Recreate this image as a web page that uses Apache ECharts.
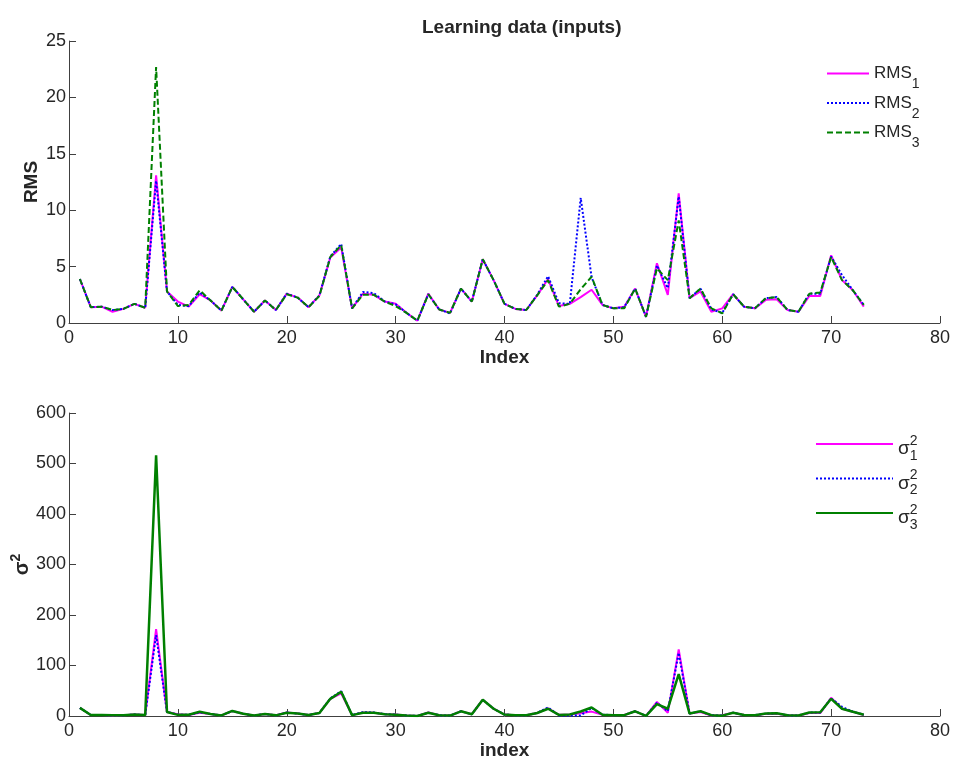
<!DOCTYPE html>
<html>
<head>
<meta charset="utf-8">
<script src="https://cdn.jsdelivr.net/npm/echarts@6/dist/echarts.min.js"></script>
<style>
  html, body {margin: 0; padding: 0; background: #fff;}
  #chart {width: 957px; height: 760px;}
</style>
</head>
<body>
<div id="chart"></div>
<script>
// RMS of the three inputs, sample 1..73
const rms1 = [3.9, 1.4, 1.45, 1.0, 1.25, 1.7, 1.35, 13.1, 2.8, 1.9,
  1.45, 2.55, 2.0, 1.1, 3.2, 2.1, 1.0, 2.0, 1.15, 2.6,
  2.25, 1.4, 2.45, 5.8, 6.7, 1.3, 2.6, 2.5, 1.9, 1.7,
  0.9, 0.2, 2.6, 1.2, 0.9, 3.05, 1.9, 5.65, 3.8, 1.7,
  1.25, 1.15, 2.45, 3.9, 1.5, 1.7, 2.3, 2.95, 1.6, 1.3,
  1.45, 3.05, 0.55, 5.3, 2.5, 11.5, 2.2, 2.8, 1.0, 1.3,
  2.55, 1.45, 1.3, 2.05, 2.1, 1.15, 1.0, 2.4, 2.4, 6.0,
  3.8, 2.9, 1.45]
const rms2 = [3.9, 1.4, 1.45, 1.15, 1.25, 1.7, 1.35, 12.6, 2.8, 1.6,
  1.5, 2.7, 2.0, 1.1, 3.2, 2.1, 1.0, 2.0, 1.15, 2.6,
  2.25, 1.4, 2.45, 5.9, 7.0, 1.3, 2.75, 2.65, 1.9, 1.65,
  0.9, 0.2, 2.55, 1.2, 0.85, 3.05, 1.9, 5.65, 3.8, 1.7,
  1.25, 1.15, 2.5, 4.15, 1.75, 1.7, 11.1, 4.05, 1.6, 1.3,
  1.4, 3.05, 0.55, 5.1, 3.1, 11.2, 2.2, 3.05, 1.2, 0.9,
  2.55, 1.45, 1.3, 2.2, 2.3, 1.15, 1.0, 2.6, 2.6, 5.9,
  4.25, 2.9, 1.6]
const rms3 = [3.9, 1.4, 1.45, 1.15, 1.25, 1.7, 1.35, 22.7, 2.8, 1.5,
  1.6, 2.9, 2.0, 1.1, 3.2, 2.1, 1.0, 2.0, 1.15, 2.55,
  2.25, 1.4, 2.4, 5.85, 6.9, 1.3, 2.5, 2.5, 1.9, 1.5,
  0.9, 0.2, 2.55, 1.2, 0.9, 3.05, 1.9, 5.65, 3.8, 1.7,
  1.25, 1.15, 2.45, 3.8, 1.45, 1.7, 3.0, 4.1, 1.6, 1.3,
  1.3, 3.05, 0.55, 4.85, 3.8, 9.1, 2.2, 3.05, 1.3, 0.85,
  2.55, 1.45, 1.3, 2.2, 2.3, 1.15, 1.0, 2.6, 2.7, 5.85,
  3.8, 2.9, 1.6]

// variances
const var1 = [16, 2, 2, 1, 1.6, 2.9, 1.8, 172, 7.8, 3.6,
  2.1, 6.5, 4, 1.2, 10, 4.4, 1, 4, 1.3, 6.8,
  5, 2, 6, 34, 45, 1.7, 6.8, 6.3, 3.6, 2.9,
  0.8, 0.1, 6.8, 1.4, 0.8, 9.3, 3.6, 32, 14.4, 2.9,
  1.6, 1.3, 6, 15, 2.3, 2.9, 5.3, 8.7, 2.6, 1.7,
  2.1, 9.3, 0.3, 28, 6.3, 132, 4.8, 7.8, 1, 1.7,
  6.5, 2.1, 1.7, 4.2, 4.4, 1.3, 1, 5.8, 5.8, 36,
  14.4, 8.4, 2.1]
const var2 = [16, 2, 2, 1.3, 1.6, 2.9, 1.8, 160, 7.8, 2.6,
  2.3, 7.3, 4, 1.2, 10, 4.4, 1, 4, 1.3, 6.8,
  5, 2, 6, 35, 49, 1.7, 7.6, 7, 3.6, 2.7,
  0.8, 0.1, 6.5, 1.4, 0.7, 9.3, 3.6, 32, 14.4, 2.9,
  1.6, 1.3, 6.3, 17, 1, 1, 1, 16, 2.6, 1.7,
  2, 9.3, 0.3, 26, 9.6, 125, 4.8, 9.3, 1.4, 0.8,
  6.5, 2.1, 1.7, 4.8, 5.3, 1.3, 1, 6.8, 6.8, 35,
  18, 8.4, 2.6]
const var3 = [16, 2, 2, 1.3, 1.6, 2.9, 1.8, 516, 7.8, 2.3,
  2.6, 8.4, 4, 1.2, 10, 4.4, 1, 4, 1.3, 6.5,
  5, 2, 5.8, 34, 48, 1.7, 6.3, 6.3, 3.6, 2.3,
  0.8, 0.1, 6.5, 1.4, 0.8, 9.3, 3.6, 32, 14.4, 2.9,
  1.6, 1.3, 6, 14.4, 2.1, 2.9, 9, 16.8, 2.6, 1.7,
  1.7, 9.3, 0.3, 23.5, 14.4, 83, 4.8, 9.3, 1.7, 0.7,
  6.5, 2.1, 1.7, 4.8, 5.3, 1.3, 1, 6.8, 7.3, 34,
  14.4, 8.4, 2.6]

const index = rms1.map((v, i) => i + 1)

const font = 'Liberation Sans, Arial, sans-serif'
const textColor = '#262626'
const axisColor = '#404040'
const magenta = '#ff00ff'
const blue = '#0000ff'
const green = '#008000'

const pairs = arr => arr.map((v, i) => [index[i], v])

const xAxisBase = (gridIndex, name) => ({
  type: 'value',
  gridIndex,
  min: 0,
  max: 80,
  interval: 10,
  name,
  nameLocation: 'middle',
  nameGap: 24,
  nameTextStyle: {fontFamily: font, fontSize: 19, fontWeight: 'bold', color: textColor},
  axisLine: {lineStyle: {color: axisColor, width: 1}},
  axisTick: {inside: true, length: 7, lineStyle: {color: axisColor}},
  axisLabel: {fontFamily: font, fontSize: 18, color: textColor, margin: 6},
  splitLine: {show: false},
})

const yAxisBase = (gridIndex, max, interval) => ({
  type: 'value',
  gridIndex,
  min: 0,
  max,
  interval,
  nameLocation: 'middle',
  nameRotate: 90,
  nameMoveOverlap: false,
  axisLine: {show: true, lineStyle: {color: axisColor, width: 1}},
  axisTick: {show: true, inside: true, length: 7, lineStyle: {color: axisColor}},
  axisLabel: {fontFamily: font, fontSize: 18, color: textColor, margin: 3},
  splitLine: {show: false},
})

const line = (name, data, color, type, xi, width) => ({
  name,
  type: 'line',
  xAxisIndex: xi,
  yAxisIndex: xi,
  data: pairs(data),
  symbol: 'none',
  animation: false,
  lineStyle: {color, width: width || 2, type},
  itemStyle: {color},
})

const option = {
  backgroundColor: '#fff',
  animation: false,
  title: {
    text: 'Learning data (inputs)',
    left: 417,
    top: 13,
    textStyle: {fontFamily: font, fontSize: 19, fontWeight: 'bold', color: textColor},
  },
  grid: [
    {left: 69, right: 17, top: 41, height: 282, outerBoundsMode: 'none'},
    {left: 69, right: 17, top: 413, height: 303, outerBoundsMode: 'none'},
  ],
  legend: [{
    data: ['RMS1', 'RMS2', 'RMS3'],
    orient: 'vertical',
    left: 821,
    top: 60,
    itemWidth: 42,
    itemHeight: 14,
    itemGap: 3,
    itemStyle: {opacity: 0},
    formatter: n => `{m|RMS}{s|${n.slice(3)}}`,
    textStyle: {
      color: textColor,
      rich: {
        m: {fontFamily: font, fontSize: 17, color: textColor, lineHeight: 36, verticalAlign: 'middle'},
        s: {fontFamily: font, fontSize: 14, color: textColor, lineHeight: 14, verticalAlign: 'bottom'},
      },
    },
  }, {
    data: ['v1', 'v2', 'v3'],
    orient: 'vertical',
    left: 810,
    top: 424,
    itemWidth: 77,
    itemHeight: 14,
    itemGap: -19.5,
    itemStyle: {opacity: 0},
    formatter: n => `{m|σ}{p|2}{s|${n.slice(1)}}`,
    textStyle: {
      color: textColor,
      rich: {
        m: {fontFamily: font, fontSize: 19, color: textColor, lineHeight: 30, height: 40, verticalAlign: 'top'},
        p: {fontFamily: font, fontSize: 14, color: textColor, lineHeight: 30, height: 24, verticalAlign: 'top', width: 0.01},
        s: {fontFamily: font, fontSize: 14, color: textColor, lineHeight: 30, height: 54, verticalAlign: 'top'},
      },
    },
  }],
  xAxis: [xAxisBase(0, 'Index'), xAxisBase(1, 'index')],
  yAxis: [
    Object.assign(yAxisBase(0, 25, 5), {
      name: 'RMS',
      nameGap: 28,
      nameTextStyle: {fontFamily: font, fontSize: 19, fontWeight: 'bold', color: textColor},
    }),
    Object.assign(yAxisBase(1, 600, 100), {
      name: '{m|σ}{p|2}',
      nameGap: 34,
      nameTextStyle: {
        color: textColor,
        rich: {
          m: {fontFamily: font, fontSize: 20, fontWeight: 'bold', color: textColor, lineHeight: 26, verticalAlign: 'middle'},
          p: {fontFamily: font, fontSize: 14, fontWeight: 'bold', color: textColor, lineHeight: 14, verticalAlign: 'top'},
        },
      },
    }),
  ],
  series: [
    line('RMS1', rms1, magenta, 'solid', 0),
    line('RMS2', rms2, blue, [2, 2], 0),
    line('RMS3', rms3, green, [6, 3], 0),
    line('v1', var1, magenta, 'solid', 1),
    line('v2', var2, blue, [2, 2], 1),
    line('v3', var3, green, 'solid', 1, 2.5),
  ],
}

const chart = echarts.init(document.getElementById('chart'))
chart.setOption(option)
</script>
</body>
</html>
